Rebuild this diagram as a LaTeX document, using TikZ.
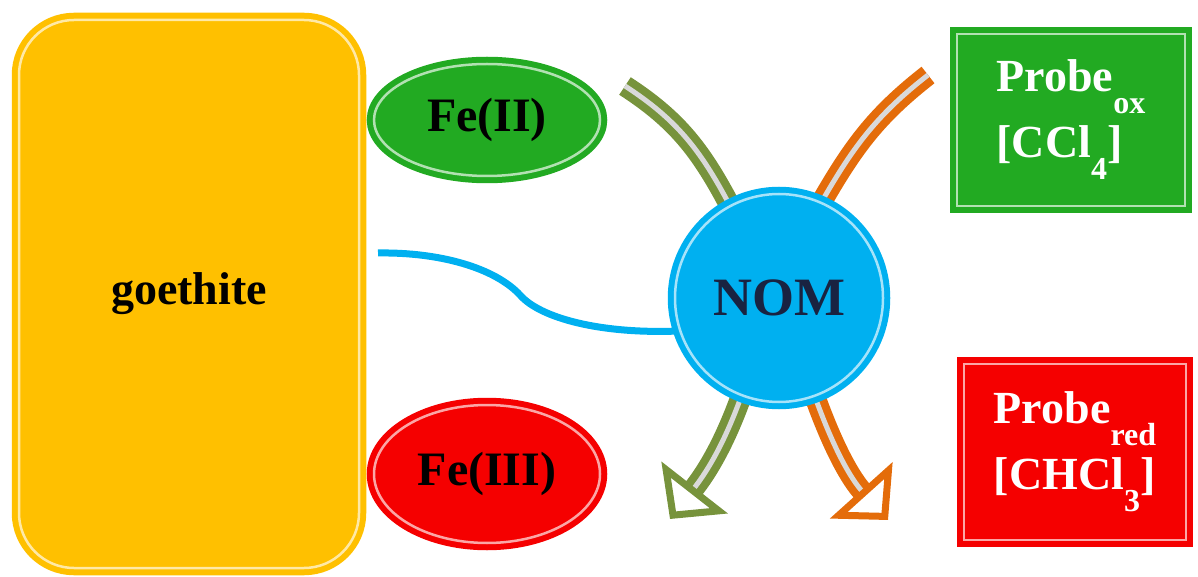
\documentclass[tikz,border=0pt]{standalone}
\usepackage{fontspec}
\setmainfont{Liberation Serif}
\usetikzlibrary{arrows.meta,shapes.geometric,shadows,backgrounds}
\definecolor{goeyellow}{RGB}{255,192,0}
\definecolor{fegreen}{RGB}{34,170,34}
\definecolor{fered}{RGB}{245,0,0}
\definecolor{nomblue}{RGB}{0,176,240}
\definecolor{nomtext}{RGB}{25,35,65}
\definecolor{olivec}{RGB}{119,147,60}
\definecolor{orangec}{RGB}{228,108,10}
\newcommand{\lowsub}[1]{\raisebox{-22pt}{\fontsize{32}{32}\selectfont #1}}

\begin{document}
\begin{tikzpicture}[x=1pt,y=1pt,
  rim/.style={draw=#1,fill=#1,line width=6pt,double=#1!35!white,double distance=2.5pt,
    drop shadow={opacity=0.25,shadow xshift=4pt,shadow yshift=-4pt}},
  pipe/.style={draw=#1,line width=8pt,double=gray!30,double distance=5pt},
  outpipe/.style={pipe=#1,-{Triangle[open,length=40pt,width=83pt,line width=7pt]}},
  wire/.style={draw=nomblue,line width=7pt}]
\useasboundingbox (0,0) rectangle (1198,576);
\node[rim=goeyellow,rounded corners=55pt,minimum width=340pt,minimum height=548pt,
  font=\fontsize{46}{46}\selectfont\bfseries] (goethite) at (189,282) {goethite};
\node[rim=fegreen,ellipse,minimum width=226pt,minimum height=112pt,
  font=\fontsize{48}{48}\selectfont\bfseries] (feii) at (487,456) {Fe(II)};
\node[rim=fered,ellipse,minimum width=226pt,minimum height=138pt,
  font=\fontsize{48}{48}\selectfont\bfseries] (feiii) at (487,102) {Fe(III)};
\node[rim=nomblue,circle,minimum size=208pt,text=nomtext,
  font=\fontsize{54}{54}\selectfont\bfseries] (nom) at (779,278) {NOM};
\node[rim=fegreen,minimum width=228pt,minimum height=172pt,text=white,align=left,
  font=\fontsize{46}{66}\selectfont\bfseries] (probeox) at (1071,456) {Probe\lowsub{ox}\\{[}CCl\lowsub{4}]};
\node[rim=fered,minimum width=222pt,minimum height=176pt,text=white,align=left,
  font=\fontsize{46}{66}\selectfont\bfseries] (probered) at (1075,124) {Probe\lowsub{red}\\{[}CHCl\lowsub{3}]};
\coordinate (inolive) at (625,490);
\coordinate (inorange) at (928,501);
\coordinate (outolive) at (670,57);
\coordinate (outorange) at (888,56);
\begin{scope}[on background layer]
\draw[wire] ([xshift=16pt,yshift=41pt]goethite.east) .. controls (440,324) and (495,308) .. (520,281)
  .. controls (540,258) and (600,242) .. (nom.198);
\draw[pipe=olivec] (inolive) to[out=-33,in=118] (nom.118);
\draw[pipe=orangec] (inorange) to[out=218,in=60] (nom.66);
\draw[outpipe=olivec] (nom.249) to[out=250,in=52] (outolive);
\draw[outpipe=orangec] (nom.290) to[out=-70,in=132] (outorange);
\end{scope}
\end{tikzpicture}
\end{document}
